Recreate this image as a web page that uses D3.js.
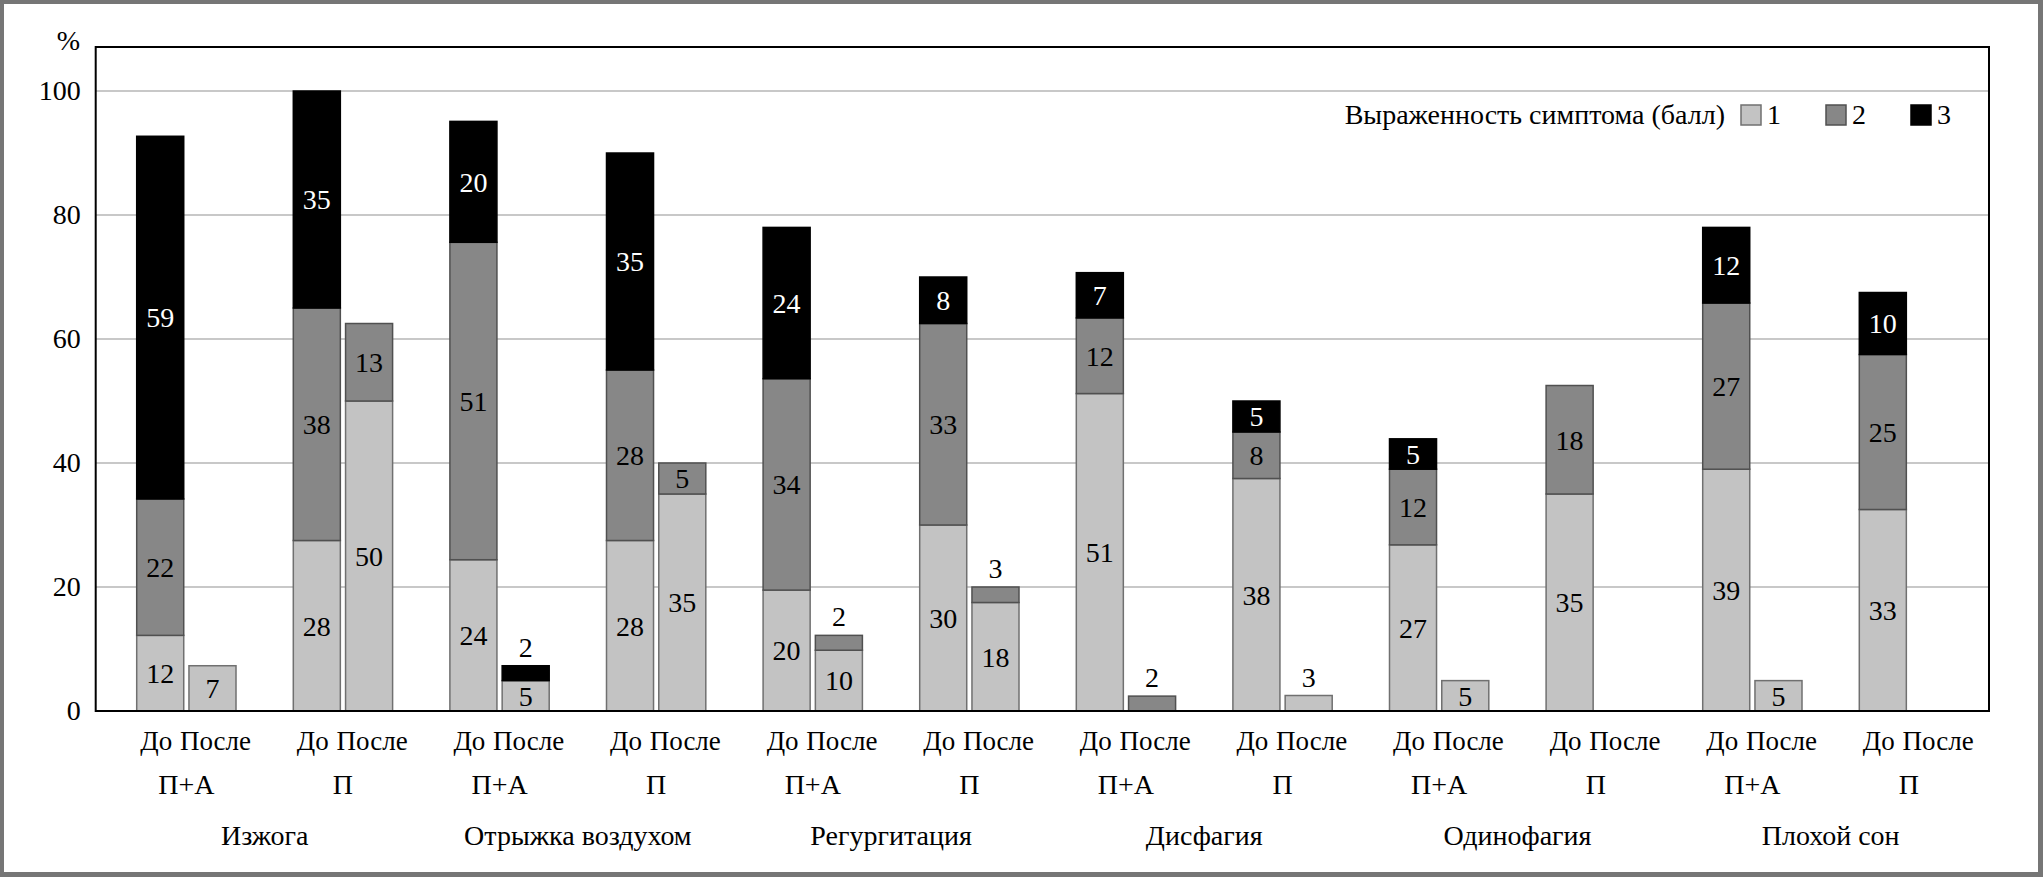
<!DOCTYPE html>
<html>
<head>
<meta charset="utf-8">
<script src="https://cdn.jsdelivr.net/npm/d3@7"></script>
<style>
  body { margin: 0; background: #fff; }
</style>
</head>
<body>
<script>
// symptoms, each with two treatment groups, each before/after
var symptoms = ["Изжога", "Отрыжка воздухом", "Регургитация", "Дисфагия", "Одинофагия", "Плохой сон"];
var treatments = ["П+А", "П"];
var periods = ["До", "После"];

// % of patients by symptom score (order: symptom > treatment > period)
var score1 = [12.2, 7.3, 27.5, 50, 24.4, 4.9, 27.5, 35, 19.5, 9.8, 30, 17.5,
              51.2, 0, 37.5, 2.5, 26.8, 4.9, 35, 0, 39.0, 4.9, 32.5, 0];
var score2 = [22.0, 0, 37.5, 12.5, 51.2, 0, 27.5, 5, 34.1, 2.4, 32.5, 2.5,
              12.2, 2.4, 7.5, 0, 12.2, 0, 17.5, 0, 26.8, 0, 25, 0];
var score3 = [58.5, 0, 35, 0, 19.5, 2.4, 35, 0, 24.4, 0, 7.5, 0,
              7.3, 0, 5, 0, 4.9, 0, 0, 0, 12.2, 0, 10, 0];

var yTicks = [0, 20, 40, 60, 80, 100];
var scoreKeys = ["1", "2", "3"];
var legendTitle = "Выраженность симптома (балл)";

var width = 2043, height = 877;
var plot = {left: 95.7, right: 1989, top: 47, bottom: 711};
var fontSize = 28;
var font = '"Liberation Serif", "Times New Roman", serif';

var fills = {"1": "#c3c3c3", "2": "#878787", "3": "#000000"};
var strokes = {"1": "#707070", "2": "#505050", "3": "#000000"};

var svg = d3.select("body").append("svg")
    .attr("width", width)
    .attr("height", height)
    .style("font-family", font)
    .style("font-size", fontSize + "px");

// gray frame
svg.append("rect").attr("width", width).attr("height", height).attr("fill", "#767676");
svg.append("rect").attr("x", 4).attr("y", 4).attr("width", 2034).attr("height", 868).attr("fill", "#fff");

// build rows
var rows = [];
var groupKeys = [];
symptoms.forEach(function (s, si) {
    treatments.forEach(function (t, ti) {
        groupKeys.push(s + "|" + t);
        periods.forEach(function (p, pi) {
            var i = si * 4 + ti * 2 + pi;
            rows.push({symptom: s, treatment: t, period: p, group: s + "|" + t,
                "1": score1[i], "2": score2[i], "3": score3[i]});
        });
    });
});

var y = d3.scaleLinear().domain([0, 107.1]).range([plot.bottom, plot.top]);

var step = 156.6;
var xStart = plot.left + 41;
var x0 = d3.scaleBand().domain(groupKeys).range([xStart, xStart + step * groupKeys.length]);
var x1 = d3.scaleBand().domain(periods).range([0, 99.3]).paddingInner(0.1);

// gridlines
svg.append("g").selectAll("line")
    .data(yTicks.filter(function (d) { return d > 0; }))
    .enter().append("line")
    .attr("x1", plot.left).attr("x2", plot.right)
    .attr("y1", function (d) { return y(d); })
    .attr("y2", function (d) { return y(d); })
    .attr("stroke", "#c8c8c8")
    .attr("stroke-width", 2);

// y axis labels
var yAxis = d3.axisLeft(y).tickValues(yTicks).tickSize(0).tickPadding(15);
var ya = svg.append("g").attr("transform", "translate(" + plot.left + ",0)").call(yAxis);
ya.attr("font-family", null).attr("font-size", null);
ya.select(".domain").remove();
ya.selectAll("text").attr("fill", "#000");

svg.append("text")
    .attr("x", 80).attr("y", 50)
    .attr("text-anchor", "end")
    .text("%");

// stacked bars
var stack = d3.stack().keys(scoreKeys);
var series = stack(rows);

var layers = svg.append("g").selectAll("g")
    .data(series)
    .enter().append("g");

layers.selectAll("rect")
    .data(function (d) { return d.map(function (v) { v.key = d.key; return v; }); })
    .enter().append("rect")
    .filter(function (d) { return d[1] - d[0] > 0; })
    .attr("x", function (d) { return x0(d.data.group) + x1(d.data.period); })
    .attr("width", x1.bandwidth())
    .attr("y", function (d) { return y(d[1]); })
    .attr("height", function (d) { return y(d[0]) - y(d[1]); })
    .attr("fill", function (d) { return fills[d.key]; })
    .attr("stroke", function (d) { return strokes[d.key]; })
    .attr("stroke-width", 1.5);

// segment labels (tiny segments get the label above the bar)
layers.selectAll("text")
    .data(function (d) { return d; })
    .enter().append("text")
    .filter(function (d) { return d[1] - d[0] > 0; })
    .attr("x", function (d) { return x0(d.data.group) + x1(d.data.period) + x1.bandwidth() / 2; })
    .attr("y", function (d) {
        var v = d[1] - d[0];
        if (v < 3) {
            var total = d.data["1"] + d.data["2"] + d.data["3"];
            return y(total) - 9;
        }
        return y((d[0] + d[1]) / 2);
    })
    .attr("dy", function (d) { return (d[1] - d[0] < 3) ? 0 : "0.35em"; })
    .attr("text-anchor", "middle")
    .attr("fill", function (d) { return (d.key === "3" && d[1] - d[0] >= 3) ? "#fff" : "#000"; })
    .text(function (d) { return Math.round(d[1] - d[0]); });

// plot frame
svg.append("rect")
    .attr("x", plot.left).attr("y", plot.top)
    .attr("width", plot.right - plot.left).attr("height", plot.bottom - plot.top)
    .attr("fill", "none").attr("stroke", "#000").attr("stroke-width", 2);

// x labels
var periodShift = {"До": -4, "После": 3};
svg.append("g").selectAll("text")
    .data(rows)
    .enter().append("text")
    .attr("x", function (d) { return x0(d.group) + x1(d.period) + x1.bandwidth() / 2 + periodShift[d.period]; })
    .attr("y", 750)
    .attr("text-anchor", "middle")
    .style("font-size", "27px")
    .text(function (d) { return d.period; });

svg.append("g").selectAll("text")
    .data(groupKeys)
    .enter().append("text")
    .attr("x", function (d) { return x0(d) + 99.3 / 2; })
    .attr("y", 794)
    .attr("text-anchor", "middle")
    .text(function (d) { return d.split("|")[1]; });

svg.append("g").selectAll("text")
    .data(symptoms)
    .enter().append("text")
    .attr("x", function (d) {
        return (x0(d + "|" + treatments[0]) + x0(d + "|" + treatments[1])) / 2 + 99.3 / 2;
    })
    .attr("y", 845)
    .attr("text-anchor", "middle")
    .text(function (d) { return d; });

// legend
var legend = svg.append("g");
legend.append("text")
    .attr("x", 1725).attr("y", 124)
    .attr("text-anchor", "end")
    .text(legendTitle);

var legX = [1741, 1826, 1911];
scoreKeys.forEach(function (k, i) {
    legend.append("rect")
        .attr("x", legX[i]).attr("y", 105)
        .attr("width", 20).attr("height", 20)
        .attr("fill", fills[k])
        .attr("stroke", strokes[k]).attr("stroke-width", 1.5);
    legend.append("text")
        .attr("x", legX[i] + 26).attr("y", 124)
        .text(k);
});
</script>
</body>
</html>
